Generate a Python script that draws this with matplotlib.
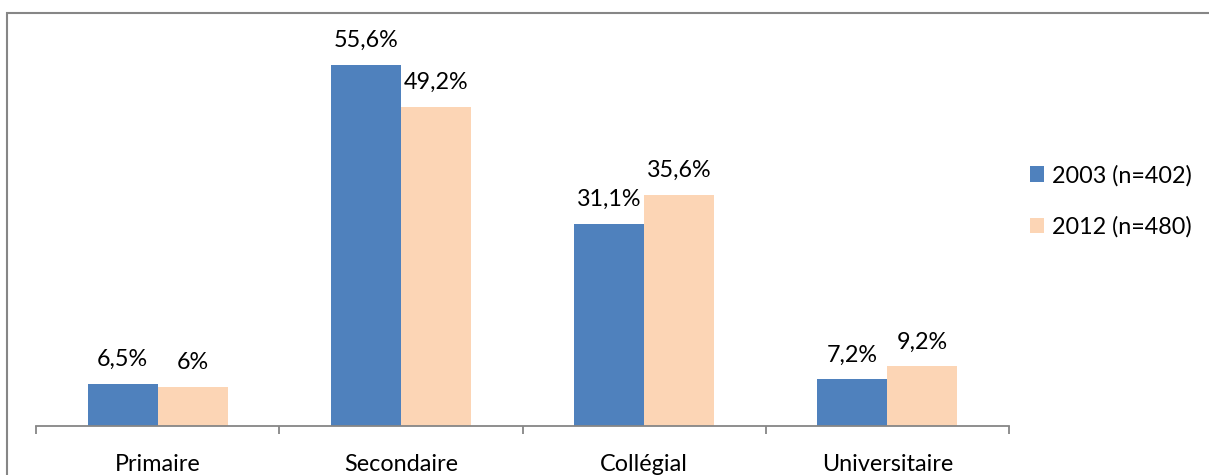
import matplotlib.pyplot as plt
import matplotlib.patches as mpatches
import numpy as np

plt.rcParams['font.family'] = ['Lato', 'DejaVu Sans']

categories = ['Primaire', 'Secondaire', 'Collégial', 'Universitaire']
series_names = ['2003 (n=402)', '2012 (n=480)']
vals_2003 = [6.5, 55.6, 31.1, 7.2]
vals_2012 = [6.0, 49.2, 35.6, 9.2]
labels_2003 = ['6,5%', '55,6%', '31,1%', '7,2%']
labels_2012 = ['6%', '49,2%', '35,6%', '9,2%']

colors = ['#4F81BD', '#FCD5B5']

W, H = 1209, 475
fig = plt.figure(figsize=(W / 100, H / 100), dpi=100)

# axes placed in pixel terms: x 36..1009, baseline at y=426
left, right, bottom, top = 36, 1009, 426, 30
ax = fig.add_axes([left / W, 1 - bottom / H, (right - left) / W, (bottom - top) / H])

fs = 16.8
x = np.arange(len(categories))
bw = 0.288
b1 = ax.bar(x - bw / 2, vals_2003, bw, color=colors[0], label=series_names[0])
b2 = ax.bar(x + bw / 2, vals_2012, bw, color=colors[1], label=series_names[1])

for bars, labs in [(b1, labels_2003), (b2, labels_2012)]:
    for r, t in zip(bars, labs):
        ax.annotate(t, (r.get_x() + r.get_width() / 2, r.get_height()),
                    xytext=(0, 10), textcoords='offset points',
                    ha='center', va='bottom', fontsize=fs, color='#000000')

ax.set_xlim(-0.5, len(categories) - 0.5)
ax.set_ylim(0, (bottom - top) / 6.49)

for s in ['top', 'right', 'left']:
    ax.spines[s].set_visible(False)
ax.spines['bottom'].set_color('#868686')
ax.spines['bottom'].set_linewidth(1.3)
ax.set_yticks([])

ax.set_xticks(x)
ax.set_xticklabels(categories, fontsize=fs)
ax.tick_params(axis='x', which='major', length=0, pad=20)
ax.set_xticks(np.arange(len(categories) + 1) - 0.5, minor=True)
ax.tick_params(axis='x', which='minor', length=6, width=1.3, color='#868686')

leg = fig.legend(loc='upper left', bbox_to_anchor=(1018 / W, 1 - 153 / H),
                 frameon=False, fontsize=fs, handlelength=0.62, handleheight=0.62,
                 handletextpad=0.35, labelspacing=1.3, borderpad=0)

# outer chart frame
frame = mpatches.Rectangle((6.5 / W, -0.1), 1.2, 1.1 - 12.5 / H,
                           transform=fig.transFigure, fill=False,
                           edgecolor='#868686', linewidth=1.5, clip_on=False)
fig.patches.append(frame)

fig.savefig('out.png', dpi=100)
